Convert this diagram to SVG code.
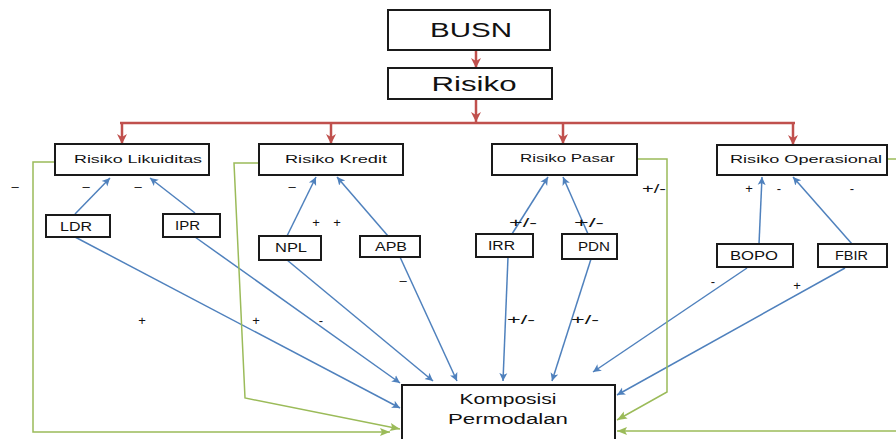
<svg xmlns="http://www.w3.org/2000/svg" width="896" height="439" viewBox="0 0 896 439">
<style>
.box{fill:#fff;stroke:#1a1a1a;stroke-width:2}
.t{font-family:"Liberation Sans",Arial,sans-serif;fill:#111}
.big{font-size:20px}
.sm{font-size:11px}
.md{font-size:12px}
.kp{font-size:14px}
.sg{font-family:"Liberation Sans",Arial,sans-serif;font-size:13px;fill:#111}
.red{stroke:#c0504d;stroke-width:2.5;fill:none}
.blue{stroke:#4f81bd;stroke-width:1.5;fill:none}
.green{stroke:#9bbb59;stroke-width:1.5;fill:none}
</style>
<defs>
<marker id="ar" markerUnits="userSpaceOnUse" markerWidth="12" markerHeight="12" refX="10" refY="6" orient="auto"><path d="M0,1 L10,6 L0,11 L3,6 Z" fill="#c0504d"/></marker>
<marker id="ab" markerUnits="userSpaceOnUse" markerWidth="10" markerHeight="10" refX="8" refY="5" orient="auto"><path d="M0,1 L8,5 L0,9 L2,5 Z" fill="#4f81bd"/></marker>
<marker id="ag" markerUnits="userSpaceOnUse" markerWidth="12" markerHeight="10" refX="10" refY="5" orient="auto"><path d="M0,1 L10,5 L0,9 L2,5 Z" fill="#9bbb59"/></marker>
</defs>

<g id="connectors">
<line class="red" x1="476" y1="50" x2="476" y2="68" marker-end="url(#ar)"/>
<line class="red" x1="476" y1="99" x2="476" y2="122" marker-end="url(#ar)"/>
<line class="red" x1="120" y1="123" x2="795" y2="123"/>
<line class="red" x1="122" y1="123" x2="122" y2="144" marker-end="url(#ar)"/>
<line class="red" x1="331" y1="123" x2="331" y2="144" marker-end="url(#ar)"/>
<line class="red" x1="563" y1="123" x2="563" y2="144" marker-end="url(#ar)"/>
<line class="red" x1="793" y1="123" x2="793" y2="145" marker-end="url(#ar)"/>

<line class="blue" x1="75" y1="214" x2="110" y2="178" marker-end="url(#ab)"/>
<line class="blue" x1="195" y1="213" x2="150" y2="178" marker-end="url(#ab)"/>
<line class="blue" x1="287" y1="236" x2="316" y2="177" marker-end="url(#ab)"/>
<line class="blue" x1="388" y1="236" x2="337" y2="177" marker-end="url(#ab)"/>
<line class="blue" x1="512" y1="234" x2="548" y2="177" marker-end="url(#ab)"/>
<line class="blue" x1="588" y1="234" x2="563" y2="177" marker-end="url(#ab)"/>
<line class="blue" x1="759" y1="244" x2="762" y2="177" marker-end="url(#ab)"/>
<line class="blue" x1="852" y1="244" x2="793" y2="177" marker-end="url(#ab)"/>

<line class="blue" x1="75" y1="237" x2="400" y2="408" marker-end="url(#ab)"/>
<line class="blue" x1="195" y1="237" x2="400" y2="383" marker-end="url(#ab)"/>
<line class="blue" x1="287" y1="260" x2="433" y2="381" marker-end="url(#ab)"/>
<line class="blue" x1="400" y1="257" x2="457" y2="381" marker-end="url(#ab)"/>
<line class="blue" x1="508" y1="257" x2="503" y2="381" marker-end="url(#ab)"/>
<line class="blue" x1="591" y1="259" x2="552" y2="381" marker-end="url(#ab)"/>
<line class="blue" x1="747" y1="268" x2="593" y2="372" marker-end="url(#ab)"/>
<line class="blue" x1="845" y1="268" x2="617" y2="395" marker-end="url(#ab)"/>

<polyline class="green" points="55,162 33,162 33,432 390,432" marker-end="url(#ag)"/>
<polyline class="green" points="259,163 234,163 245,398 400,429" marker-end="url(#ag)"/>
<polyline class="green" points="637,159 667,159 667,392 617,420" marker-end="url(#ag)"/>
<polyline class="green" points="887,159 896,159"/>
<polyline class="green" points="896,431 617,431" marker-end="url(#ag)"/>
</g>

<g id="busn"><rect class="box" x="388" y="10" width="162" height="40"/><text class="t big" x="471" y="37" text-anchor="middle" textLength="82" lengthAdjust="spacingAndGlyphs">BUSN</text></g>
<g id="risiko"><rect class="box" x="388" y="68" width="164" height="31"/><text class="t big" x="474" y="91" text-anchor="middle" textLength="85" lengthAdjust="spacingAndGlyphs">Risiko</text></g>

<g id="likuiditas"><rect class="box" x="55" y="144" width="154" height="31"/><text class="t sm" x="74" y="163" textLength="128" lengthAdjust="spacingAndGlyphs">Risiko Likuiditas</text></g>
<g id="kredit"><rect class="box" x="259" y="144" width="144" height="31"/><text class="t sm" x="285" y="163" textLength="102" lengthAdjust="spacingAndGlyphs">Risiko Kredit</text></g>
<g id="pasar"><rect class="box" x="492" y="144" width="145" height="31"/><text class="t sm" x="520" y="162" textLength="95" lengthAdjust="spacingAndGlyphs">Risiko Pasar</text></g>
<g id="operasional"><rect class="box" x="717" y="145" width="170" height="30"/><text class="t sm" x="730" y="163" textLength="152" lengthAdjust="spacingAndGlyphs">Risiko Operasional</text></g>

<g id="ldr"><rect class="box" x="46" y="215" width="64" height="22"/><text class="t md" x="60" y="231" textLength="32" lengthAdjust="spacingAndGlyphs">LDR</text></g>
<g id="ipr"><rect class="box" x="163" y="214" width="57" height="23"/><text class="t md" x="175" y="230" textLength="25" lengthAdjust="spacingAndGlyphs">IPR</text></g>
<g id="npl"><rect class="box" x="259" y="236" width="62" height="24"/><text class="t md" x="275" y="252" textLength="32" lengthAdjust="spacingAndGlyphs">NPL</text></g>
<g id="apb"><rect class="box" x="360" y="236" width="60" height="21"/><text class="t md" x="375" y="251" textLength="32" lengthAdjust="spacingAndGlyphs">APB</text></g>
<g id="irr"><rect class="box" x="476" y="234" width="57" height="23"/><text class="t md" x="488" y="250" textLength="27" lengthAdjust="spacingAndGlyphs">IRR</text></g>
<g id="pdn"><rect class="box" x="562" y="234" width="55" height="25"/><text class="t md" x="578" y="251" textLength="32" lengthAdjust="spacingAndGlyphs">PDN</text></g>
<g id="bopo"><rect class="box" x="717" y="244" width="76" height="23"/><text class="t md" x="730" y="260" textLength="48" lengthAdjust="spacingAndGlyphs">BOPO</text></g>
<g id="fbir"><rect class="box" x="818" y="244" width="69" height="23"/><text class="t md" x="835" y="260" textLength="33" lengthAdjust="spacingAndGlyphs">FBIR</text></g>

<g id="komposisi"><rect class="box" x="402" y="385" width="213" height="70"/><text class="t kp" x="508" y="404" text-anchor="middle" textLength="97" lengthAdjust="spacingAndGlyphs">Komposisi</text><text class="t kp" x="508" y="424" text-anchor="middle" textLength="120" lengthAdjust="spacingAndGlyphs">Permodalan</text></g>

<g id="labels">
<text class="sg" x="15" y="191" text-anchor="middle">–</text>
<text class="sg" x="86" y="191" text-anchor="middle">–</text>
<text class="sg" x="138" y="191" text-anchor="middle">–</text>
<text class="sg" x="292" y="191" text-anchor="middle">–</text>
<text class="sg" x="316" y="227" text-anchor="middle">+</text>
<text class="sg" x="337" y="227" text-anchor="middle">+</text>
<text class="sg" x="403" y="285" text-anchor="middle">–</text>
<text class="sg" x="142" y="325" text-anchor="middle">+</text>
<text class="sg" x="256" y="325" text-anchor="middle">+</text>
<text class="sg" x="321" y="325" text-anchor="middle">-</text>
<text class="sg" x="654" y="193" text-anchor="middle" textLength="24" lengthAdjust="spacingAndGlyphs">+/-</text>
<text class="sg" x="523" y="227" text-anchor="middle" textLength="28" lengthAdjust="spacingAndGlyphs">+/-</text>
<text class="sg" x="589" y="227" text-anchor="middle" textLength="30" lengthAdjust="spacingAndGlyphs">+/-</text>
<text class="sg" x="521" y="324" text-anchor="middle" textLength="28" lengthAdjust="spacingAndGlyphs">+/-</text>
<text class="sg" x="585" y="324" text-anchor="middle" textLength="28" lengthAdjust="spacingAndGlyphs">+/-</text>
<text class="sg" x="749" y="193" text-anchor="middle">+</text>
<text class="sg" x="779" y="193" text-anchor="middle">-</text>
<text class="sg" x="852" y="193" text-anchor="middle">-</text>
<text class="sg" x="713" y="286" text-anchor="middle">-</text>
<text class="sg" x="797" y="290" text-anchor="middle">+</text>
</g>
</svg>
